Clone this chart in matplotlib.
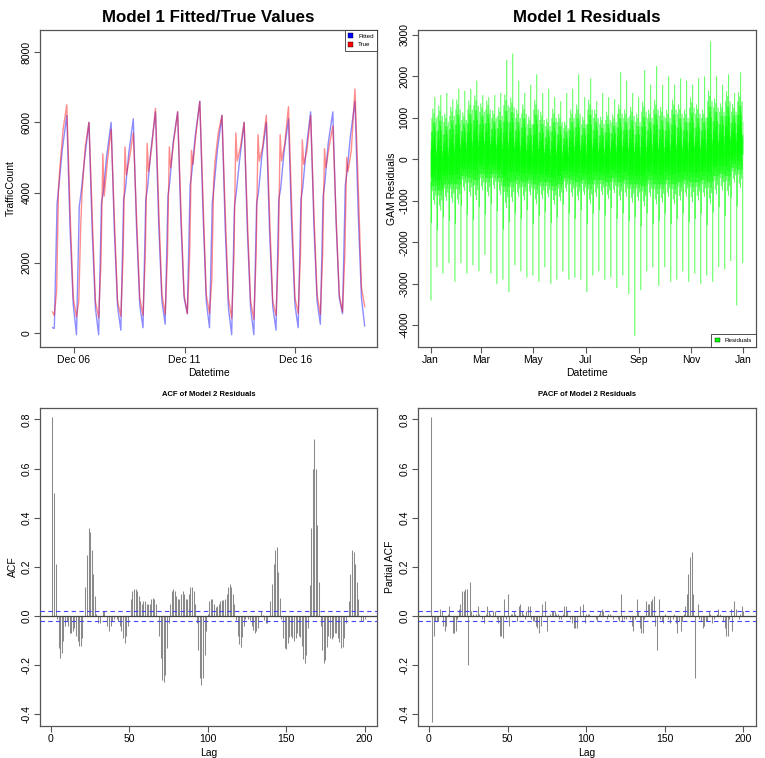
import numpy as np
import pandas as pd
import matplotlib
matplotlib.use("Agg")
import matplotlib.pyplot as plt
import matplotlib.dates as mdates
from matplotlib.patches import Patch
from matplotlib.collections import LineCollection
from matplotlib.ticker import FormatStrFormatter

plt.rcParams['font.family'] = ['Liberation Sans', 'DejaVu Sans']
plt.rcParams['axes.unicode_minus'] = False

# ---- panel 1: fitted vs true, Dec 5 - Dec 18 (keypoints per day)
day0 = pd.Timestamp('2015-12-05')
fit_hours = [3, 6, 8, 11.5, 16.5, 20, 23.5]
fit_min  = [130, -50, -50, 80, 150, 250, 550, 150, -50, -50, 80, 150, 250, 550]
fit_rise = [3700, 3600, 3700, 3800, 3800, 3900, 4200, 3700, 3600, 3700, 3800, 3800, 3900, 4200]
fit_am   = [4200, 4000, 4000, 4100, 4150, 4300, 4600, 4200, 4000, 4000, 4100, 4150, 4300, 4600]
fit_mid  = [5200, 4900, 5000, 5100, 5200, 5400, 5600, 5200, 4900, 5000, 5100, 5200, 5400, 5600]
fit_peak = [6200, 6000, 6000, 6100, 6300, 6300, 6600, 6200, 6000, 6000, 6100, 6300, 6300, 6600]
fit_eve  = [3000, 2900, 2900, 3000, 3100, 3200, 3400, 3000, 2900, 2900, 3000, 3100, 3200, 3400]
fit_late = [800, 700, 750, 800, 900, 1000, 900, 700, 700, 750, 800, 900, 1000, 1000]

true_hours = [3, 5.5, 7.5, 9, 12.5, 16.5, 20.5, 23.5]
true_min  = [500, 450, 430, 480, 500, 530, 550, 560, 420, 390, 500, 560, 530, 600]
true_rise = [1200, 900, 2000, 2200, 2200, 2200, 2200, 1500, 2200, 2200, 2200, 2200, 2200, 2200]
true_am   = [4100, 3000, 5100, 5300, 5400, 5300, 5200, 4300, 5700, 5650, 5650, 5500, 5250, 5000]
true_dip  = [4700, 4000, 3900, 4500, 4600, 4700, 4800, 4900, 4900, 4900, 4900, 4800, 4700, 4600]
true_mid  = [5800, 5300, 4900, 5000, 5300, 5500, 5700, 5700, 5300, 5300, 5400, 5200, 5300, 5200]
true_peak = [6500, 6000, 5800, 5700, 6400, 6300, 6600, 6200, 6000, 6200, 6450, 6200, 5900, 6950]
true_eve  = [3100, 3000, 2900, 3000, 3200, 3200, 3400, 3100, 2900, 3000, 3200, 3100, 3000, 3800]
true_late = [1000, 900, 900, 1000, 1100, 1100, 1100, 1000, 900, 900, 1000, 1100, 1100, 1300]
start_fit, start_true = 150, 600   # Dec 05 01:00
end_fit, end_true = 200, 750       # Dec 19 03:00

# ---- panel 2: GAM residuals over the year (weekly readings)
res_start = pd.Timestamp('2015-01-01')
wk_low = [-3400, -2600, -2750, -2500, -2950, -2500, -2750, -2550, -2700, -2300, -2750,
          -3000, -2900, -3200, -2550, -2700, -2850, -2800, -2950, -2600, -3000, -2900,
          -2700, -2900, -2850, -2900, -3200, -2800, -2700, -2900, -2850, -3100, -2800,
          -3250, -4250, -3150, -2700, -2600, -3050, -2600, -2950, -2900, -2700, -2950,
          -2750, -3000, -2800, -2950, -2600, -2650, -2450, -3520, -2500]
wk_high = [1500, 1550, 1600, 1450, 1700, 1650, 1700, 1900, 1550, 1500, 1550, 1600, 2400,
           2550, 1900, 1600, 1800, 2050, 1600, 1700, 1500, 1400, 1600, 1700, 2050, 1500,
           1950, 1400, 1600, 1500, 1450, 2100, 1900, 1600, 1500, 2150, 1800, 2250, 1800,
           2000, 1800, 1950, 1900, 1800, 1950, 2000, 2850, 2000, 1800, 2050, 1600, 2100, 1200]
wk_mid = [-100, -150, -100, -50, 0, 50, 100, 100, 150, 100, 100, 50, 0, 50, 0, 0, -50, 0,
          -50, -100, -100, -100, -50, 0, 0, -50, 0, 0, -50, -50, 0, 0, 0, -50, -100, -50,
          0, 0, -50, 0, 0, 0, 0, 50, 0, 0, 100, 150, 150, 200, 250, 300, 350]
wk_amp = [1.1, 1.2, 1.0, 1.1, 1.2, 0.9, 1.1, 1.2, 1.0, 1.1, 0.9, 1.0, 1.3, 1.2, 1.0, 1.1,
          0.9, 1.2, 1.0, 0.9, 1.1, 1.0, 0.8, 1.0, 1.1, 0.9, 1.2, 1.0, 0.9, 1.0, 0.9, 1.1,
          1.0, 1.1, 1.0, 1.2, 1.0, 1.2, 1.1, 1.0, 1.2, 1.1, 1.0, 1.2, 1.1, 1.0, 1.3, 1.1,
          1.0, 1.2, 0.9, 1.1, 0.8]
# six readings per weekday around the weekly level (nan = weekly spike slot)
day_profile = [[-400, -900, np.nan, 300, -300, 700],
               [-1300, 500, -500, 1000, -200, 400],
               [-600, 700, -300, 1200, -500, 300],
               [-400, 900, -800, 500, -100, 1100],
               [-500, 600, -300, 800, -900, np.nan],
               [-200, 900, -600, 400, -400, 700],
               [-700, 300, -100, 1000, -500, 200]]

# ---- panels 3/4: ACF and PACF of model 2 residuals, lags 1..200
acf_vals = [
    0.81, 0.50, 0.21, -0.01, -0.13, -0.17, -0.15, -0.10, -0.04, -0.02,
    -0.04, -0.07, -0.07, -0.06, -0.05, -0.08, -0.10, -0.12, -0.12, -0.09,
    0.00, 0.12, 0.25, 0.36, 0.34, 0.27, 0.17, 0.08, 0.01, -0.03,
    -0.03, 0.00, 0.02, 0.02, 0.00, -0.04, -0.06, -0.04, -0.02, -0.01,
    0.00, -0.01, -0.02, -0.04, -0.06, -0.09, -0.11, -0.08, -0.04, 0.00,
    0.07, 0.10, 0.11, 0.11, 0.10, 0.08, 0.06, 0.05, 0.06, 0.06,
    0.05, 0.05, 0.05, 0.07, 0.075, 0.07, 0.05, 0.00, -0.08, -0.17,
    -0.26, -0.27, -0.24, -0.13, -0.03, 0.05, 0.10, 0.11, 0.10, 0.08,
    0.07, 0.07, 0.09, 0.10, 0.09, 0.07, 0.07, 0.09, 0.12, 0.12,
    0.10, 0.05, -0.03, -0.14, -0.25, -0.28, -0.25, -0.16, -0.06, 0.01,
    0.06, 0.07, 0.07, 0.05, 0.035, 0.04, 0.05, 0.06, 0.065, 0.065,
    0.07, 0.09, 0.12, 0.13, 0.12, 0.09, 0.05, -0.015, -0.08, -0.115,
    -0.125, -0.085, -0.04, -0.01, 0.00, -0.01, -0.015, -0.04, -0.055, -0.07,
    -0.06, -0.05, 0.00, 0.02, 0.005, -0.015, -0.03, -0.03, 0.00, 0.06,
    0.13, 0.21, 0.27, 0.28, 0.18, 0.075, -0.01, -0.09, -0.13, -0.135,
    -0.11, -0.085, -0.08, -0.09, -0.10, -0.09, -0.07, -0.08, -0.085, -0.12,
    -0.175, -0.19, -0.16, -0.05, 0.125, 0.36, 0.60, 0.72, 0.60, 0.37,
    0.14, -0.04, -0.14, -0.19, -0.18, -0.125, -0.08, -0.09, -0.095, -0.085,
    -0.07, -0.07, -0.09, -0.105, -0.13, -0.125, -0.09, -0.03, 0.00, 0.06,
    0.17, 0.27, 0.26, 0.21, 0.14, 0.07, 0.00, -0.02, -0.02, -0.01]
pacf_vals = [
    0.81, -0.43, -0.08, -0.02, -0.02, -0.02, 0.03, 0.02, -0.04, -0.06,
    -0.04, 0.01, 0.04, 0.00, -0.07, -0.07, -0.06, -0.01, 0.03, 0.05,
    0.10, 0.10, 0.11, 0.11, -0.20, 0.14, 0.02, 0.01, 0.00, 0.01,
    0.04, 0.01, 0.00, -0.01, -0.03, 0.01, 0.04, 0.02, 0.01, 0.00,
    0.02, 0.02, -0.01, -0.03, -0.08, -0.08, -0.09, 0.07, -0.01, 0.09,
    -0.04, 0.01, 0.01, 0.02, 0.01, -0.02, 0.04, 0.05, 0.02, 0.01,
    -0.01, 0.02, 0.04, 0.04, -0.01, -0.02, -0.02, -0.04, -0.05, -0.07,
    -0.04, 0.05, 0.00, 0.06, -0.06, 0.00, 0.01, 0.02, 0.02, 0.02,
    0.01, 0.01, -0.01, -0.01, 0.01, 0.04, 0.04, 0.02, 0.00, -0.01,
    -0.03, -0.05, -0.05, -0.05, 0.00, 0.04, 0.00, 0.05, -0.03, 0.01,
    0.01, 0.01, 0.00, 0.00, 0.00, -0.01, -0.02, 0.01, 0.02, 0.03,
    0.02, 0.00, -0.01, 0.01, 0.01, 0.00, -0.01, 0.00, 0.00, -0.01,
    -0.02, 0.09, -0.02, -0.01, -0.01, 0.00, 0.00, -0.01, -0.04, -0.06,
    -0.01, 0.07, 0.02, -0.05, -0.07, -0.07, -0.01, 0.06, 0.05, 0.05,
    0.06, 0.07, 0.08, -0.04, -0.14, 0.07, -0.01, -0.02, -0.03, 0.01,
    0.00, -0.01, -0.03, 0.00, -0.01, 0.01, -0.03, -0.07, -0.02, -0.06,
    -0.02, 0.01, 0.04, 0.09, 0.17, 0.24, 0.26, 0.09, -0.25, 0.00,
    0.05, -0.01, -0.02, -0.05, -0.04, -0.02, -0.02, 0.02, 0.01, -0.03,
    -0.01, 0.00, 0.01, 0.03, 0.01, 0.00, -0.02, -0.05, -0.08, -0.08,
    -0.01, 0.03, -0.06, 0.06, 0.03, 0.00, -0.01, 0.01, 0.04, 0.02]
ci = 0.0196

# ---- build the time series from the readings
def daily_series(hours, cols):
    t, v = [], []
    for d in range(len(cols[0])):
        for h, c in zip(hours, cols):
            t.append(day0 + pd.Timedelta(days=d) + pd.Timedelta(hours=h))
            v.append(c[d])
    return t, v

ft, fv = daily_series(fit_hours, [fit_min, fit_rise, fit_am, fit_mid, fit_peak, fit_eve, fit_late])
tt, tv = daily_series(true_hours, [true_min, true_rise, true_am, true_dip, true_mid, true_peak, true_eve, true_late])
t_first = day0 + pd.Timedelta(hours=1)
t_last = day0 + pd.Timedelta(days=14, hours=3)
ft = [t_first] + ft + [t_last]
fv = [start_fit] + fv + [end_fit]
tt = [t_first] + tt + [t_last]
tv = [start_true] + tv + [end_true]

rt, rv = [], []
for d in range(365):
    w, wd = d // 7, d % 7
    for k, p in enumerate(day_profile[wd]):
        if np.isnan(p):
            val = wk_low[w] if wd == 0 else wk_high[w]
        else:
            val = wk_mid[w] + p * wk_amp[w]
        rt.append(res_start + pd.Timedelta(hours=d * 24 + k * 4))
        rv.append(val)
rx = mdates.date2num(pd.DatetimeIndex(rt).to_pydatetime())
res_pts = np.column_stack([rx, rv])
res_segs = np.stack([res_pts[:-1], res_pts[1:]], axis=1)

# ---- figure
fig = plt.figure(figsize=(7.65, 7.58), dpi=100)
ax1 = fig.add_axes([0.0523, 0.5422, 0.4405, 0.4182])
ax2 = fig.add_axes([0.5464, 0.5422, 0.4418, 0.4182])
ax3 = fig.add_axes([0.0523, 0.0426, 0.4405, 0.4191])
ax4 = fig.add_axes([0.5464, 0.0426, 0.4418, 0.4191])

def r_style(ax):
    for s in ax.spines.values():
        s.set_color('#555555')
        s.set_linewidth(0.9)
    ax.tick_params(length=4, width=0.8, color='#555555', labelsize=7.5, pad=2)
    ax.tick_params(axis='y', labelrotation=90)
    for lab in ax.get_yticklabels():
        lab.set_va('center')

# panel 1
ax1.plot(ft, fv, color='#0000ff', alpha=0.45, lw=1.0)
ax1.plot(tt, tv, color='#ff0000', alpha=0.45, lw=1.0)
ax1.set_xlim(pd.Timestamp('2015-12-04 11:30'), pd.Timestamp('2015-12-19 16:20'))
ax1.set_ylim(-400, 8630)
ax1.set_yticks([0, 2000, 4000, 6000, 8000])
ax1.set_xticks([pd.Timestamp('2015-12-06'), pd.Timestamp('2015-12-11'), pd.Timestamp('2015-12-16')])
ax1.xaxis.set_major_formatter(mdates.DateFormatter('%b %d'))
ax1.set_title('Model 1 Fitted/True Values', fontsize=12.2, fontweight='bold', pad=5.5)
ax1.set_xlabel('Datetime', fontsize=7.5, labelpad=2)
ax1.set_ylabel('TrafficCount', fontsize=7.5, labelpad=4)
r_style(ax1)
leg = ax1.legend(handles=[Patch(facecolor='#0000ff', edgecolor='black', lw=0.3, label='Fitted'),
                          Patch(facecolor='#ff0000', edgecolor='black', lw=0.3, label='True')],
                 loc='upper right', fontsize=4.5, handlelength=0.8, handleheight=0.8,
                 borderaxespad=0, fancybox=False, framealpha=1, handletextpad=0.8, borderpad=0.5)
leg.get_frame().set_edgecolor('#333333')
leg.get_frame().set_linewidth(0.6)

# panel 2
ax2.add_collection(LineCollection(res_segs, colors='#00ff00', alpha=0.4, lw=0.7))
ax2.xaxis_date()
ax2.set_xlim(pd.Timestamp('2014-12-17 05:00'), pd.Timestamp('2016-01-15 19:00'))
ax2.set_ylim(-4525, 3120)
ax2.set_yticks(np.arange(-4000, 3001, 1000))
ax2.xaxis.set_major_locator(mdates.MonthLocator(bymonth=[1, 3, 5, 7, 9, 11]))
ax2.xaxis.set_major_formatter(mdates.DateFormatter('%b'))
ax2.set_title('Model 1 Residuals', fontsize=12.2, fontweight='bold', pad=5.5)
ax2.set_xlabel('Datetime', fontsize=7.5, labelpad=2)
ax2.set_ylabel('GAM Residuals', fontsize=7.5, labelpad=2)
r_style(ax2)
leg2 = ax2.legend(handles=[Patch(facecolor='#00ff00', edgecolor='black', lw=0.3, label='Residuals')],
                  loc='lower right', fontsize=4.5, handlelength=0.8, handleheight=0.8,
                  borderaxespad=0, fancybox=False, framealpha=1, handletextpad=0.8, borderpad=0.6)
leg2.get_frame().set_edgecolor('#333333')
leg2.get_frame().set_linewidth(0.6)

# panels 3/4
lags = np.arange(1, 201)
for ax, vals, title, ylab in [(ax3, acf_vals, 'ACF of Model 2 Residuals', 'ACF'),
                              (ax4, pacf_vals, 'PACF of Model 2 Residuals', 'Partial ACF')]:
    ax.vlines(lags, 0, vals, color='#8a8a8a', lw=0.75)
    ax.axhline(0, color='#444444', lw=0.9)
    ax.axhline(ci, color='#4444ff', lw=0.8, ls=(0, (4, 3)), zorder=3)
    ax.axhline(-ci, color='#4444ff', lw=0.8, ls=(0, (4, 3)), zorder=3)
    ax.set_xlim(-6.96, 207.96)
    ax.set_ylim(-0.446, 0.846)
    ax.set_xticks([0, 50, 100, 150, 200])
    ax.set_yticks([-0.4, -0.2, 0.0, 0.2, 0.4, 0.6, 0.8])
    ax.yaxis.set_major_formatter(FormatStrFormatter('%.1f'))
    ax.set_title(title, fontsize=5.5, fontweight='bold', pad=9)
    ax.set_xlabel('Lag', fontsize=7.5, labelpad=3)
    ax.set_ylabel(ylab, fontsize=7.5, labelpad=3)
    r_style(ax)

fig.savefig('out.png', dpi=100)
